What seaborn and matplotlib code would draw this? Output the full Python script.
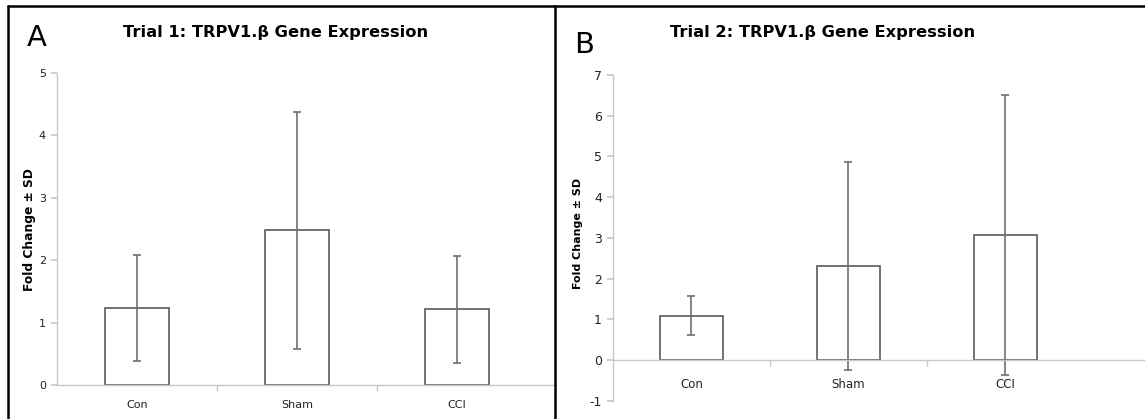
import matplotlib
matplotlib.use("Agg")
import matplotlib.pyplot as plt
from matplotlib.lines import Line2D
import seaborn as sns
import pandas as pd

categories = ["Con", "Sham", "CCI"]
trial1_mean = [1.23, 2.48, 1.21]
trial1_sd = [0.85, 1.90, 0.85]
trial2_mean = [1.09, 2.31, 3.07]
trial2_sd = [0.48, 2.55, 3.45]
trial1_yticks = [0, 1, 2, 3, 4, 5]
trial2_yticks = [-1, 0, 1, 2, 3, 4, 5, 6, 7]
titles = ["Trial 1: TRPV1.\u03b2 Gene Expression", "Trial 2: TRPV1.\u03b2 Gene Expression"]
panel_letters = ["A", "B"]
ylabel = "Fold Change \u00b1 SD"

sns.set_theme(style="white")
plt.rcParams["font.family"] = ["DejaVu Sans"]

W, H = 1145, 419
fig = plt.figure(figsize=(W / 100, H / 100), dpi=100)

def fx(px):
    return px / W

def fy(py):
    return 1 - py / H

axis_col = "#c8c8c8"
bar_edge = "#5a5a5a"
err_col = "#707070"
txt_col = "#222222"

def make_panel(rect, means, sds, ylim, yticks, xmax, label_pad, xls, yls):
    ax = fig.add_axes(rect)
    df = pd.DataFrame({"cat": categories, "val": means})
    sns.barplot(data=df, x="cat", y="val", ax=ax, color="white",
                edgecolor=bar_edge, linewidth=1.2, width=0.4, errorbar=None)
    ax.errorbar(range(len(categories)), means, yerr=sds, fmt="none",
                ecolor=err_col, elinewidth=1.2, capsize=3, capthick=1.2)
    ax.set_xlim(-0.5, xmax)
    ax.set_ylim(*ylim)
    ax.set_yticks(yticks)
    ax.set_yticklabels([str(t) for t in yticks])
    ax.set_xlabel("")
    ax.set_ylabel("")
    for s in ["top", "right"]:
        ax.spines[s].set_visible(False)
    for s in ["left", "bottom"]:
        ax.spines[s].set_color(axis_col)
        ax.spines[s].set_linewidth(1.0)
    ax.spines["bottom"].set_position(("data", 0))
    ax.set_xticks([0.5, 1.5], minor=True)
    ax.tick_params(axis="x", which="major", length=0, pad=label_pad,
                   labelsize=xls, labelcolor=txt_col)
    ax.tick_params(axis="x", which="minor", length=4, color=axis_col,
                   direction="out", bottom=True)
    ax.tick_params(axis="y", length=4, color=axis_col, direction="out",
                   left=True, labelsize=yls, labelcolor=txt_col, pad=4)
    ax.set_facecolor("white")
    ax.grid(False)
    return ax

# Left panel
ax1 = make_panel([fx(57), fy(385), fx(553 - 57), fy(73) - fy(385)],
                 trial1_mean, trial1_sd, (0, 5), trial1_yticks, 2.6, 11, 8, 8)
# Right panel
ax2 = make_panel([fx(613), fy(400.7), fx(1145 - 613), fy(75) - fy(400.7)],
                 trial2_mean, trial2_sd, (-1, 7), trial2_yticks, 2.89, 13, 8.5, 9)

# Titles and letters
fig.text(fx(276), fy(33), titles[0], ha="center", va="center",
         fontsize=11.7, fontweight="bold", color="black")
fig.text(fx(823), fy(33), titles[1], ha="center", va="center",
         fontsize=11.7, fontweight="bold", color="black")
fig.text(fx(27), fy(38), panel_letters[0], ha="left", va="center",
         fontsize=21, color="black")
fig.text(fx(574), fy(45), panel_letters[1], ha="left", va="center",
         fontsize=21, color="black")
fig.text(fx(30), fy(230), ylabel, rotation=90, ha="center", va="center",
         fontsize=8.8, fontweight="bold", color="black")
fig.text(fx(578), fy(233), ylabel, rotation=90, ha="center", va="center",
         fontsize=8, fontweight="bold", color="black")

# Panel frames
lw = 1.8
fig.add_artist(Line2D([fx(8), fx(1145)], [fy(6), fy(6)], color="black", lw=lw))
fig.add_artist(Line2D([fx(8), fx(8)], [fy(6), fy(419)], color="black", lw=lw))
fig.add_artist(Line2D([fx(555), fx(555)], [fy(6), fy(419)], color="black", lw=lw))

fig.savefig("out.png", dpi=100, facecolor="white")
